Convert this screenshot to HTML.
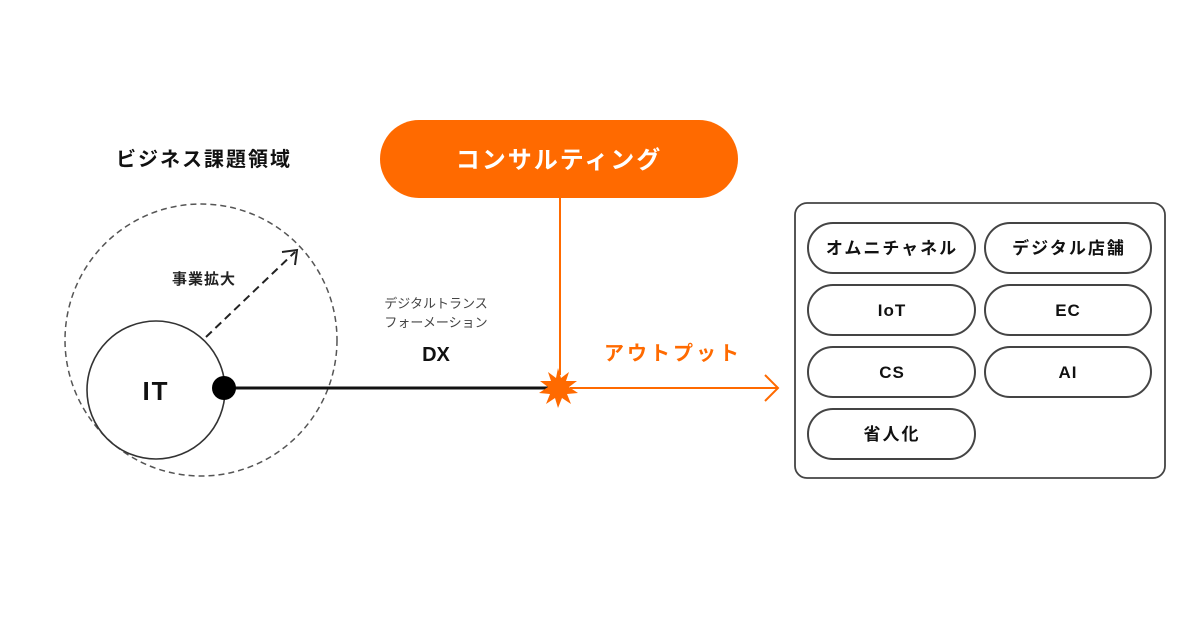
<!DOCTYPE html>
<html><head><meta charset="utf-8"><style>
body{margin:0;width:1200px;height:630px;background:#fff;overflow:hidden;font-family:"Liberation Sans","Noto Sans CJK JP",sans-serif;}
</style></head><body>
<svg width="1200" height="630" viewBox="0 0 1200 630" xmlns="http://www.w3.org/2000/svg" font-family="Liberation Sans, Noto Sans CJK JP, sans-serif">
<text x="204" y="166" font-size="20" font-weight="bold" text-anchor="middle" fill="#111" letter-spacing="2">ビジネス課題領域</text>
<circle cx="201" cy="340" r="136" fill="none" stroke="#555" stroke-width="1.5" stroke-dasharray="6,4"/>
<circle cx="156" cy="390" r="69" fill="none" stroke="#333" stroke-width="1.6"/>
<text x="156" y="400" font-size="26" font-weight="bold" text-anchor="middle" fill="#111" letter-spacing="2">IT</text>
<text x="204" y="284" font-size="15" font-weight="bold" text-anchor="middle" fill="#222" letter-spacing="1">事業拡大</text>
<line x1="206" y1="337" x2="295" y2="252" stroke="#222" stroke-width="2" stroke-dasharray="8,5"/>
<polyline points="282,252 297,250 295,265" fill="none" stroke="#222" stroke-width="2"/>
<text x="436" y="308" font-size="13" text-anchor="middle" fill="#444">デジタルトランス</text>
<text x="436" y="327" font-size="13" text-anchor="middle" fill="#444">フォーメーション</text>
<text x="436" y="361" font-size="20" font-weight="bold" text-anchor="middle" fill="#111">DX</text>
<line x1="224" y1="388" x2="550" y2="388" stroke="#111" stroke-width="3"/>
<circle cx="224" cy="388" r="12" fill="#000"/>
<rect x="380" y="120" width="358" height="78" rx="39" fill="#ff6a00"/>
<text x="559" y="168" font-size="24" font-weight="bold" text-anchor="middle" fill="#fff" letter-spacing="2">コンサルティング</text>
<line x1="560" y1="198" x2="560" y2="375" stroke="#ff6a00" stroke-width="2"/>
<line x1="570" y1="388" x2="778" y2="388" stroke="#ff6a00" stroke-width="2"/>
<polyline points="765,375 778,388 765,401" fill="none" stroke="#ff6a00" stroke-width="2"/>
<text x="673" y="360" font-size="20" font-weight="bold" text-anchor="middle" fill="#ff6a00" letter-spacing="3">アウトプット</text>
<polygon fill="#ff6a00" points="558,368 561,378 569,372 566,381 577,381 569,387 578,393 567,394 571,404 562,398 558,408 555,398 546,404 550,394 539,393 548,387 540,381 551,381 548,372 556,378"/>
<rect x="795" y="203" width="370" height="275" rx="12" fill="none" stroke="#444" stroke-width="1.8"/>
<g fill="none" stroke="#444" stroke-width="2">
<rect x="808" y="223" width="167" height="50" rx="25"/><rect x="985" y="223" width="166" height="50" rx="25"/>
<rect x="808" y="285" width="167" height="50" rx="25"/><rect x="985" y="285" width="166" height="50" rx="25"/>
<rect x="808" y="347" width="167" height="50" rx="25"/><rect x="985" y="347" width="166" height="50" rx="25"/>
<rect x="808" y="409" width="167" height="50" rx="25"/>
</g>
<g font-size="17" font-weight="bold" text-anchor="middle" fill="#111" letter-spacing="2">
<text x="892" y="254">オムニチャネル</text><text x="1069" y="254">デジタル店舗</text>
<text x="892" y="440">省人化</text>
</g>
<g font-size="17" font-weight="bold" text-anchor="middle" fill="#111" letter-spacing="1">
<text x="892" y="316">IoT</text><text x="1068" y="316">EC</text>
<text x="892" y="378">CS</text><text x="1068" y="378">AI</text>
</g>
</svg>
</body></html>
